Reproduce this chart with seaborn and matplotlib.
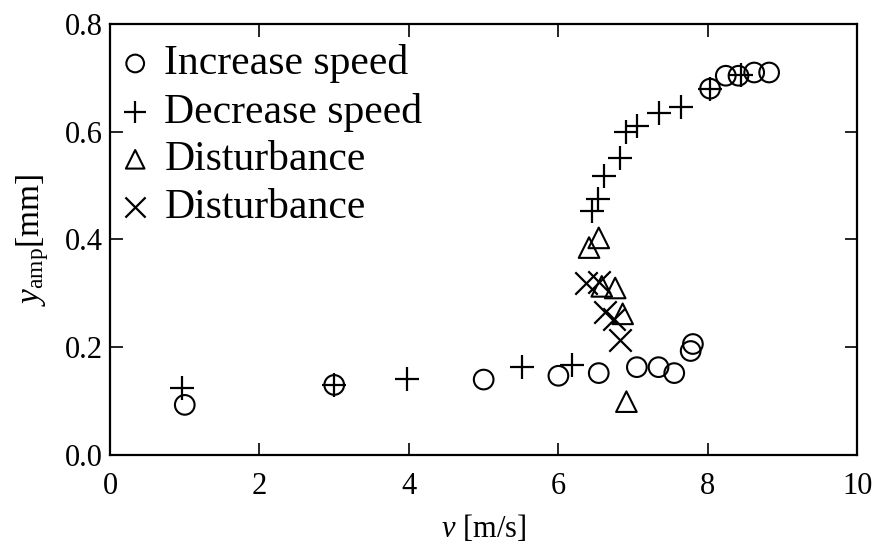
import matplotlib
matplotlib.use("Agg")
import matplotlib.pyplot as plt
import seaborn as sns
import pandas as pd

# Increase speed (open circles)
inc_v = [1.00, 3.00, 5.00, 6.00, 6.54, 7.05, 7.34, 7.55, 7.77, 7.80, 8.03, 8.24, 8.41, 8.62, 8.82]
inc_y = [0.093, 0.130, 0.140, 0.147, 0.152, 0.163, 0.163, 0.152, 0.193, 0.206, 0.680, 0.704, 0.704, 0.710, 0.710]

# Decrease speed (+)
dec_v = [0.96, 3.00, 3.98, 5.51, 6.18, 6.45, 6.53, 6.61, 6.83, 6.91, 7.05, 7.34, 7.64, 8.03, 8.44]
dec_y = [0.124, 0.130, 0.141, 0.164, 0.167, 0.452, 0.475, 0.517, 0.552, 0.599, 0.611, 0.635, 0.646, 0.680, 0.705]

# Disturbance (triangles)
tri_v = [6.41, 6.54, 6.58, 6.76, 6.86, 6.91]
tri_y = [0.385, 0.403, 0.313, 0.310, 0.262, 0.099]

# Disturbance (x)
crs_v = [6.37, 6.54, 6.63, 6.74, 6.83]
crs_y = [0.319, 0.321, 0.265, 0.253, 0.213]

labels = ["Increase speed", "Decrease speed", "Disturbance", "Disturbance"]

sns.set_theme(style="ticks")
plt.rcParams["font.family"] = ["Liberation Serif", "DejaVu Serif"]
plt.rcParams["mathtext.fontset"] = "custom"
plt.rcParams["mathtext.rm"] = "Liberation Serif"
plt.rcParams["mathtext.it"] = "Liberation Serif:italic"
plt.rcParams["text.color"] = "black"
plt.rcParams["axes.labelcolor"] = "black"
plt.rcParams["xtick.color"] = "black"
plt.rcParams["ytick.color"] = "black"

fig = plt.figure(figsize=(8.74, 5.56), dpi=100)
ax = fig.add_axes([0.1259, 0.1817, 0.855, 0.7751])

df_inc = pd.DataFrame({"v": inc_v, "y": inc_y})
df_dec = pd.DataFrame({"v": dec_v, "y": dec_y})
df_tri = pd.DataFrame({"v": tri_v, "y": tri_y})
df_crs = pd.DataFrame({"v": crs_v, "y": crs_y})

sns.scatterplot(data=df_inc, x="v", y="y", marker="o", s=200, facecolor="none",
                edgecolor="black", linewidth=1.5, ax=ax, label=labels[0], zorder=3)
sns.scatterplot(data=df_dec, x="v", y="y", marker="+", s=300, color="black",
                linewidth=1.6, ax=ax, label=labels[1], zorder=3)
sns.scatterplot(data=df_tri, x="v", y="y", marker="^", s=220, facecolor="none",
                edgecolor="black", linewidth=1.5, ax=ax, label=labels[2], zorder=3)
sns.scatterplot(data=df_crs, x="v", y="y", marker="x", s=260, color="black",
                linewidth=1.6, ax=ax, label=labels[3], zorder=3)

ax.set_xlim(0, 10)
ax.set_ylim(0, 0.8)
ax.set_xticks([0, 2, 4, 6, 8, 10])
ax.set_yticks([0.0, 0.2, 0.4, 0.6, 0.8])
ax.set_yticklabels(["0.0", "0.2", "0.4", "0.6", "0.8"])
ax.tick_params(direction="in", top=True, right=True, length=9, width=1.2,
               labelsize=22, colors="black")
ax.tick_params(axis="x", pad=12)
ax.tick_params(axis="y", pad=5)
for sp in ax.spines.values():
    sp.set_visible(True)
    sp.set_linewidth(1.6)
    sp.set_color("black")

ax.set_xlabel(r"$v$ [m/s]", fontsize=22, labelpad=9, color="black")
ax.set_ylabel(r"$y_{\mathrm{amp}}$[mm]", fontsize=24, labelpad=10, color="black")

leg = ax.legend(loc="upper left", bbox_to_anchor=(0.003, 0.972), frameon=False,
                fontsize=30, handletextpad=0.35, labelspacing=0.22,
                borderaxespad=0.1, borderpad=0.1, handlelength=0.7,
                markerscale=0.9, labelcolor="black")

fig.savefig("out.png", dpi=100)
